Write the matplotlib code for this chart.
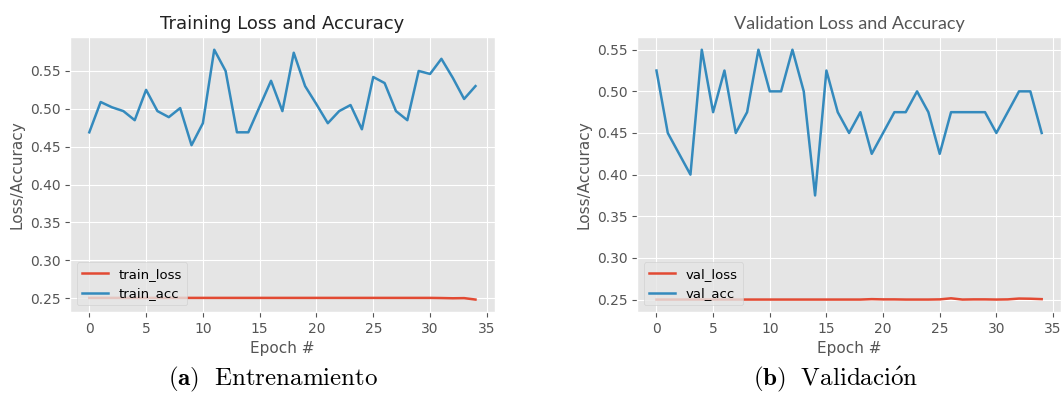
# Training / validation curves, two panels with LaTeX-like captions
import numpy as np
import matplotlib
matplotlib.use("Agg")
import matplotlib.pyplot as plt

plt.style.use("ggplot")
plt.rcParams["mathtext.fontset"] = "cm"

epochs = np.arange(35)

train_loss = [0.2505] * 31 + [0.2503, 0.2500, 0.2502, 0.2483]
train_acc = [0.469, 0.509, 0.502, 0.497, 0.485, 0.525, 0.497, 0.489, 0.501, 0.452,
             0.481, 0.578, 0.550, 0.469, 0.469, 0.503, 0.537, 0.497, 0.574, 0.530,
             0.506, 0.481, 0.497, 0.505, 0.473, 0.542, 0.534, 0.497, 0.485, 0.550,
             0.546, 0.566, 0.541, 0.513, 0.530]

val_loss = [0.2500] * 19 + [0.2505, 0.2502, 0.2502, 0.2500, 0.2500, 0.2500, 0.2502,
                            0.2515, 0.2500, 0.2502, 0.2502, 0.2500, 0.2502, 0.2512,
                            0.2510, 0.2505]
val_acc = [0.525, 0.450, 0.425, 0.400, 0.550, 0.475, 0.525, 0.450, 0.475, 0.550,
           0.500, 0.500, 0.550, 0.500, 0.375, 0.525, 0.475, 0.450, 0.475, 0.425,
           0.450, 0.475, 0.475, 0.500, 0.475, 0.425, 0.475, 0.475, 0.475, 0.475,
           0.450, 0.475, 0.500, 0.500, 0.450]

fig = plt.figure(figsize=(10.62, 3.96), dpi=100)
ax1 = fig.add_axes([0.0659, 0.212, 0.400, 0.694])
ax2 = fig.add_axes([0.600, 0.212, 0.399, 0.694])

def draw(ax, loss, acc, names):
    ax.plot(epochs, loss, label=names[0], lw=1.8)
    ax.plot(epochs, acc, label=names[1], lw=1.8)
    ax.set_xlabel("Epoch #", fontsize=11, color="#555555")
    ax.set_ylabel("Loss/Accuracy", fontsize=11, color="#555555")
    ax.tick_params(labelsize=10)
    ax.set_xticks(range(0, 36, 5))
    ax.legend(loc="lower left", fontsize=9.5)

draw(ax1, train_loss, train_acc, ["train_loss", "train_acc"])
draw(ax2, val_loss, val_acc, ["val_loss", "val_acc"])

ax1.set_title("Training Loss and Accuracy", fontsize=13, color="#222222")
ax2.set_title("Validation Loss and Accuracy", fontsize=13, color="#555555",
              family=["Lato", "DejaVu Sans"])

# captions in Computer Modern (mathtext) so the accent renders
fig.text(0.257, 0.006, r"$\mathbf{(a)}\ \ \mathrm{Entrenamiento}$", ha="center",
         va="bottom", fontsize=18)
fig.text(0.787, 0.006, r"$\mathbf{(b)}\ \ \mathrm{Validaci\acute{o}n}$", ha="center",
         va="bottom", fontsize=18)

fig.savefig("out.png", dpi=100)
